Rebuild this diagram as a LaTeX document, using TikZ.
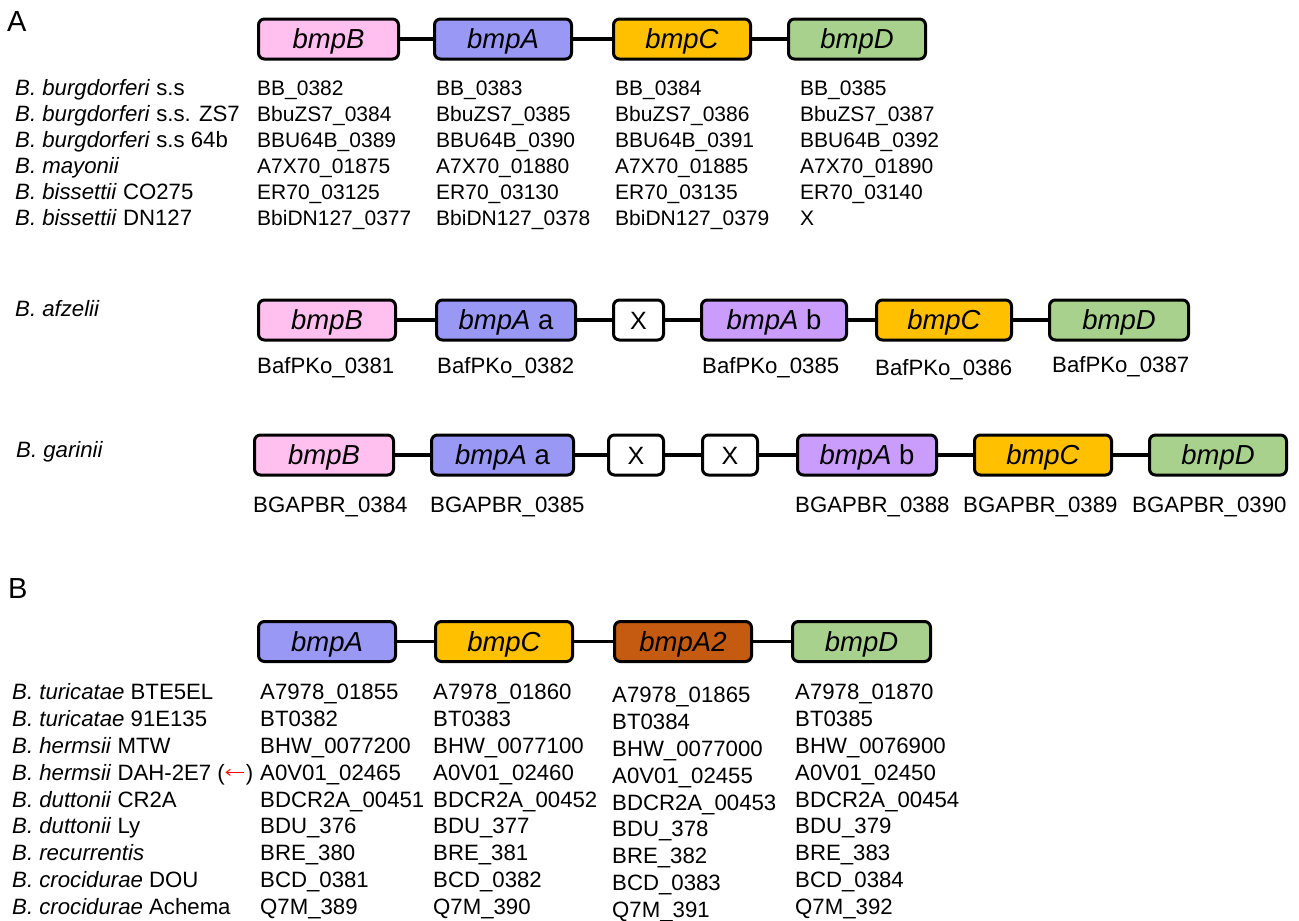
\documentclass[tikz,border=0pt]{standalone}
\usepackage{fontspec}
\setmainfont{Liberation Sans}
\usetikzlibrary{arrows.meta,calc}
\definecolor{cB}{HTML}{FFBFEF}
\definecolor{cA}{HTML}{9999F5}
\definecolor{cC}{HTML}{FFC000}
\definecolor{cD}{HTML}{A9D18E}
\definecolor{cAb}{HTML}{CA9CFB}
\definecolor{cA2}{HTML}{C55A11}
\begin{document}
\begin{tikzpicture}[x=1pt,y=-1pt,
  gene/.style={draw=black, line width=3pt, rounded corners=6pt, minimum height=40pt,
    inner sep=0pt, text height=19.5pt, text depth=0pt, font=\fontsize{27.5}{32}\selectfont},
  xbox/.style={gene, fill=white, font=\fontsize{25}{30}\selectfont, text height=18pt},
  link/.style={line width=3.5pt},
  txt/.style={anchor=west, inner sep=0pt, text height=15.9pt, text depth=0pt, font=\fontsize{22.2}{26}\selectfont},
  txtsm/.style={txt, text height=15pt, font=\fontsize{21}{25}\selectfont},
  panel/.style={anchor=west, inner sep=0pt, text height=21pt, text depth=0pt, font=\fontsize{29}{34}\selectfont}]
\useasboundingbox (0,0) rectangle (1299,921);

% ---------------- Panel A ----------------
\node[panel] (pA) at (7,21) {A};

\node[gene, fill=cB, minimum width=140pt] (a1) at (328.5,39) {\textit{bmpB}};
\node[gene, fill=cA, minimum width=137pt] (a2) at (503,39) {\textit{bmpA}};
\node[gene, fill=cC, minimum width=137pt] (a3) at (682,39) {\textit{bmpC}};
\node[gene, fill=cD, minimum width=137pt] (a4) at (857,39) {\textit{bmpD}};
\draw[link] (a1) -- (a2); \draw[link] (a2) -- (a3); \draw[link] (a3) -- (a4);

\node[txt] (sa1) at (15,88)  {\textit{B. burgdorferi} s.s};
\node[txt] (sa2) at (15,114) {\textit{B. burgdorferi} s.s. ZS7};
\node[txt] (sa3) at (15,140) {\textit{B. burgdorferi} s.s 64b};
\node[txt] (sa4) at (15,166) {\textit{B. mayonii}};
\node[txt] (sa5) at (15,192) {\textit{B. bissettii} CO275};
\node[txt] (sa6) at (15,218) {\textit{B. bissettii} DN127};

\foreach \y/\p/\q/\r/\s [count=\i] in {
  88/BB\_0382/BB\_0383/BB\_0384/BB\_0385,
  114/BbuZS7\_0384/BbuZS7\_0385/BbuZS7\_0386/BbuZS7\_0387,
  140/BBU64B\_0389/BBU64B\_0390/BBU64B\_0391/BBU64B\_0392,
  166/A7X70\_01875/A7X70\_01880/A7X70\_01885/A7X70\_01890,
  192/ER70\_03125/ER70\_03130/ER70\_03135/ER70\_03140,
  218/BbiDN127\_0377/BbiDN127\_0378/BbiDN127\_0379/X}{
  \node[txtsm] (ta\i c1) at (257,\y) {\p};
  \node[txtsm] (ta\i c2) at (436,\y) {\q};
  \node[txtsm] (ta\i c3) at (615,\y) {\r};
  \node[txtsm] (ta\i c4) at (800,\y) {\s};
}

% ---------------- B. afzelii ----------------
\node[txt] (saf) at (15,309) {\textit{B. afzelii}};
\node[gene, fill=cB, minimum width=137pt] (f1) at (327,320) {\textit{bmpB}};
\node[gene, fill=cA, minimum width=139pt] (f2) at (506,320) {\textit{bmpA} a};
\node[xbox, minimum width=50pt] (f3) at (638.5,320) {X};
\node[gene, fill=cAb, minimum width=145pt] (f4) at (774,320) {\textit{bmpA} b};
\node[gene, fill=cC, minimum width=135pt] (f5) at (944,320) {\textit{bmpC}};
\node[gene, fill=cD, minimum width=139pt] (f6) at (1119,320) {\textit{bmpD}};
\draw[link] (f1) -- (f2); \draw[link] (f2) -- (f3); \draw[link] (f3) -- (f4);
\draw[link] (f4) -- (f5); \draw[link] (f5) -- (f6);
\node[txt] (tf1) at (257,366) {BafPKo\_0381};
\node[txt] (tf2) at (437,366) {BafPKo\_0382};
\node[txt] (tf4) at (702,366) {BafPKo\_0385};
\node[txt] (tf5) at (875,368) {BafPKo\_0386};
\node[txt] (tf6) at (1052,365) {BafPKo\_0387};

% ---------------- B. garinii ----------------
\node[txt] (sga) at (16,450) {\textit{B. garinii}};
\node[gene, fill=cB, minimum width=139pt] (g1) at (324,455) {\textit{bmpB}};
\node[gene, fill=cA, minimum width=142pt] (g2) at (502.5,455) {\textit{bmpA} a};
\node[xbox, minimum width=55pt] (g3) at (636,455) {X};
\node[xbox, minimum width=55pt] (g4) at (730,455) {X};
\node[gene, fill=cAb, minimum width=139pt] (g5) at (867,455) {\textit{bmpA} b};
\node[gene, fill=cC, minimum width=137pt] (g6) at (1043,455) {\textit{bmpC}};
\node[gene, fill=cD, minimum width=137pt] (g7) at (1218,455) {\textit{bmpD}};
\draw[link] (g1) -- (g2); \draw[link] (g2) -- (g3); \draw[link] (g3) -- (g4);
\draw[link] (g4) -- (g5); \draw[link] (g5) -- (g6); \draw[link] (g6) -- (g7);
\node[txt] (tg1) at (253,505) {BGAPBR\_0384};
\node[txt] (tg2) at (430,505) {BGAPBR\_0385};
\node[txt] (tg5) at (795,505) {BGAPBR\_0388};
\node[txt] (tg6) at (963,505) {BGAPBR\_0389};
\node[txt] (tg7) at (1132,505) {BGAPBR\_0390};

% ---------------- Panel B ----------------
\node[panel] (pB) at (8,588) {B};
\node[gene, fill=cA, minimum width=137pt] (b1) at (327,641.5) {\textit{bmpA}};
\node[gene, fill=cC, minimum width=137pt] (b2) at (504,641.5) {\textit{bmpC}};
\node[gene, fill=cA2, minimum width=137pt] (b3) at (683,641.5) {\textit{bmpA2}};
\node[gene, fill=cD, minimum width=138pt] (b4) at (861.5,641.5) {\textit{bmpD}};
\draw[link] (b1) -- (b2); \draw[link] (b2) -- (b3); \draw[link] (b3) -- (b4);

\foreach \t/\p/\q/\r/\s [count=\i] in {
  {\textit{B. turicatae} BTE5EL}/A7978\_01855/A7978\_01860/A7978\_01865/A7978\_01870,
  {\textit{B. turicatae} 91E135}/BT0382/BT0383/BT0384/BT0385,
  {\textit{B. hermsii} MTW}/BHW\_0077200/BHW\_0077100/BHW\_0077000/BHW\_0076900,
  {\textit{B. hermsii} DAH-2E7 (\hspace{21pt})}/A0V01\_02465/A0V01\_02460/A0V01\_02455/A0V01\_02450,
  {\textit{B. duttonii} CR2A}/BDCR2A\_00451/BDCR2A\_00452/BDCR2A\_00453/BDCR2A\_00454,
  {\textit{B. duttonii} Ly}/BDU\_376/BDU\_377/BDU\_378/BDU\_379,
  {\textit{B. recurrentis}}/BRE\_380/BRE\_381/BRE\_382/BRE\_383,
  {\textit{B. crocidurae} DOU}/BCD\_0381/BCD\_0382/BCD\_0383/BCD\_0384,
  {\textit{B. crocidurae} Achema}/Q7M\_389/Q7M\_390/Q7M\_391/Q7M\_392}{
  \pgfmathsetmacro{\yy}{692+26.8*(\i-1)}
  \node[txt] (sb\i) at (12,\yy) {\t};
  \node[txt] (tb\i c1) at (260,\yy) {\p};
  \node[txt] (tb\i c2) at (433,\yy) {\q};
  \node[txt] (tb\i c3) at (612,\yy+3) {\r};
  \node[txt] (tb\i c4) at (795,\yy) {\s};
}
\draw[red, line width=1pt, -{Straight Barb[length=4pt,width=6pt]}]
  ($(sb4.east)+(-9,0)$) -- ($(sb4.east)+(-28,0)$);
\end{tikzpicture}
\end{document}
